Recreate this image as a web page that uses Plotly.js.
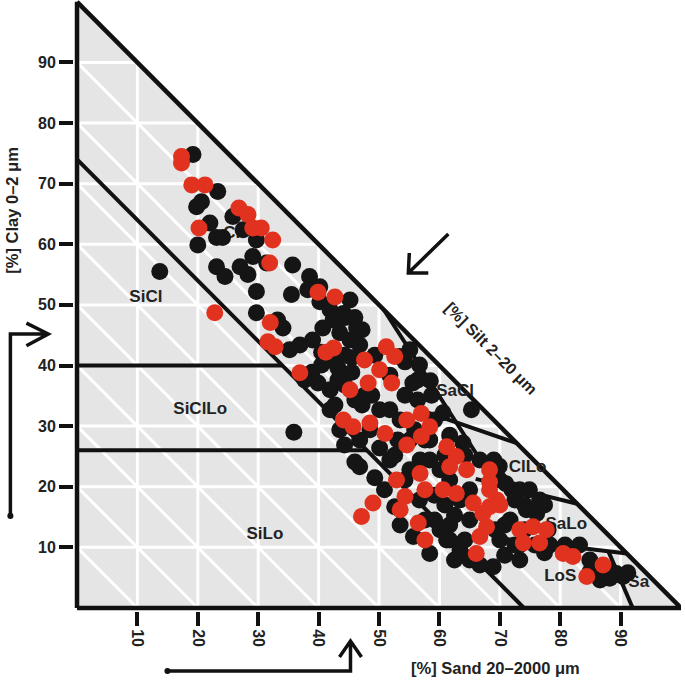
<!DOCTYPE html>
<html>
<head>
<meta charset="utf-8">
<script src="https://cdn.plot.ly/plotly-3.0.1.min.js"></script>
<style>html,body{margin:0;padding:0;background:#fff;}#chart{width:685px;height:685px;}</style>
</head>
<body>
<div id="chart"></div>
<script>
// ---- data (sand % on x, clay % on y) ----
const tickValues = [10, 20, 30, 40, 50, 60, 70, 80, 90];

// red samples
const redSand = [17.3,17.3,19.0,21.2,20.2,26.8,28.3,29.1,30.5,32.4,31.9,22.8,32.0,39.9,42.7,31.6,32.8,36.9,41.2,42.5,51.2,52.6,47.6,50.1,52.1,48.2,45.2,44.1,45.7,48.5,51.0,54.6,57.0,58.4,57.0,54.6,61.2,62.8,61.7,64.5,68.3,56.8,52.9,57.6,54.3,53.5,49.0,47.1,60.6,62.8,65.6,68.3,69.5,67.2,56.5,57.6,66.1,67.8,66.7,73.3,75.5,77.7,73.9,76.6,80.5,82.1,87.1,84.4,70.0,68.3,68.3];
const redClay = [74.5,73.4,69.8,69.8,62.7,66.0,64.9,62.7,62.7,60.7,56.9,48.7,47.1,52.1,51.3,43.9,43.1,38.8,42.2,42.9,43.1,41.5,40.9,39.3,37.1,37.1,36.0,31.0,29.9,30.5,28.8,31.0,32.1,29.9,28.3,26.9,26.6,25.0,23.3,22.8,22.8,22.2,21.1,19.5,18.4,16.2,17.3,15.1,19.5,18.9,17.3,19.5,17.8,15.6,14.0,11.2,9.0,13.4,11.8,12.9,13.4,12.9,10.7,10.7,9.0,8.5,7.1,5.2,17.0,16.7,20.8];

// black samples
const blackSand = [19.2,20.6,19.8,23.3,22.0,23.1,24.1,20.0,25.8,27.5,29.7,29.1,23.1,24.5,27.0,28.3,31.4,35.7,29.7,35.5,29.7,33.2,34.1,38.5,38.2,40.2,40.2,41.9,42.4,43.5,40.7,13.7,35.2,36.9,39.0,40.5,44.1,46.3,45.2,44.3,43.2,45.5,39.9,41.9,38.9,35.9,53.4,55.6,54.3,48.8,47.2,51.8,54.3,58.7,58.5,65.3,50.1,46.8,51.8,52.6,55.7,58.4,61.2,68.9,73.3,74.4,76.1,89.3,90.4,86.6,88.2,63.4,60.1,56.8,55.1,59.2,61.7,64.2,70.0,71.7,70.0,72.0,76.6,83.2,58.4,61.7,63.9,60.6,56.4,50.1,48.5,53.1,47.6,44.3,46.8,49.3,55.1,61.7,65.0,53.5,62.5,66.7,70.8,73.3,77.4,84.9,91.2,74.9,69.9,72.5,78.0,42.7,46.8,44.3,49.3,50.9,46.0,
  45.2,44.3,47.2,45.5,41.9,40.5,37.7,43.2,46.0,41.9,43.5,46.0,52.6,55.1,54.3,56.7,59.2,60.9,62.5,65.0,69.2,70.8,74.1,72.5,75.8,78.3,80.8,84.9,86.6,88.2,64.2,66.7,69.0,71.0,73.3,77.4,74.1,61.7,63.4,65.0,60.1,57.6,58.4,60.9,57.6,53.5,55.9,59.2,51.8,56.7,56.4];
const blackClay = [74.8,67.0,66.2,68.7,63.5,61.1,61.1,59.9,64.6,62.4,60.7,58.0,56.3,54.7,56.3,55.0,56.9,56.6,52.2,51.7,48.7,47.5,46.2,54.7,52.5,53.0,50.5,49.2,47.5,45.4,46.2,55.5,42.6,43.4,44.2,42.2,48.6,46.2,44.2,41.7,39.6,38.9,37.1,36.0,38.9,29.0,41.5,37.1,40.6,35.1,33.5,32.7,35.1,35.1,37.5,32.7,26.4,23.3,24.4,16.7,11.8,9.0,11.2,6.8,7.9,16.2,15.6,5.7,5.2,4.6,4.9,17.8,22.8,24.4,22.8,14.5,13.7,11.2,11.2,14.5,21.1,19.5,17.8,10.4,27.7,28.5,27.2,32.2,34.3,32.7,29.4,27.7,35.1,36.8,43.4,41.7,42.6,21.1,19.5,13.7,7.9,7.1,8.7,10.4,9.1,5.9,5.8,19.5,23.4,17.8,12.9,33.5,27.7,26.9,21.5,19.5,47.9,
  50.8,47.9,45.9,41.3,40.9,40.1,37.6,37.6,34.3,32.7,29.4,24.1,25.2,27.7,21.1,17.8,18.6,17.0,15.3,14.5,12.9,13.7,12.9,10.4,10.4,10.4,10.4,7.9,6.6,6.3,25.2,24.4,24.4,20.5,19.5,17.0,17.0,11.2,9.6,7.9,12.9,14.5,24.4,25.2,27.7,31.0,29.4,31.0,38.4,40.1,37.6];

// triangle edges and texture class boundaries (each entry is one polyline)
const edgeSand = [[0,0],[0,100],[0,100]];
const edgeClay = [[0,100],[0,0],[100,0]];
const boundarySand = [[0,74],[0,34],[0,48],[50.8,59.5,69.3],[57,72.8],[66,82.8],[70,91],[88,92]];
const boundaryClay = [[74,0],[40,40],[26,26],[49.2,35.7,20.5],[32.6,27.2],[21.3,17.2],[11.5,9],[9.3,0]];

// texture class labels
const classNames = ['Cl','SiCl','SiClLo','SiLo','SaCl','ClLo','SaLo','LoS','Sa'];
const classSand  = [25.6, 11.4, 20.4, 31.1, 62.6, 74.6, 81.0, 80.0, 93.0];
const classClay  = [61.8, 51.2, 32.7, 12.0, 35.6, 23.1, 13.8, 5.1, 4.1];

// ---- build ----
const FONT = 'Liberation Sans, Arial, sans-serif';
const traces = [];
for (let i = 0; i < boundarySand.length; i++) {
  traces.push({type:'scatter', mode:'lines', x:boundarySand[i], y:boundaryClay[i],
    line:{color:'#111', width:4}, hoverinfo:'skip'});
}
for (let i = 0; i < edgeSand.length; i++) {
  traces.push({type:'scatter', mode:'lines', x:edgeSand[i], y:edgeClay[i],
    line:{color:'#111', width:4.5}, hoverinfo:'skip'});
}
traces.push({type:'scatter', mode:'text', x:classSand, y:classClay, text:classNames,
  textposition:'middle center', textfont:{family:FONT, size:17, color:'#222', weight:'bold'},
  hoverinfo:'skip', cliponaxis:false});
traces.push({type:'scatter', mode:'markers', x:blackSand, y:blackClay,
  marker:{size:17, color:'#151515', line:{width:0}}, cliponaxis:false});
traces.push({type:'scatter', mode:'markers', x:redSand, y:redClay,
  marker:{size:17, color:'#e0321f', line:{width:0}}, cliponaxis:false});

const shapes = [];
shapes.push({type:'path', xref:'x', yref:'y', path:'M0,0 L100,0 L0,100 Z',
  fillcolor:'#e5e5e5', line:{width:0}, layer:'below'});
tickValues.forEach(v => {
  const w = {color:'#ffffff', width:3};
  shapes.push({type:'line', xref:'x', yref:'y', x0:v, y0:0, x1:v, y1:100 - v, line:w, layer:'below'});
  shapes.push({type:'line', xref:'x', yref:'y', x0:0, y0:v, x1:100 - v, y1:v, line:w, layer:'below'});
  shapes.push({type:'line', xref:'x', yref:'y', x0:0, y0:v, x1:v, y1:0, line:w, layer:'below'});
});
// arrows (paper coordinates of the plotting area)
const arrowLine = {color:'#111', width:3.5};
shapes.push({type:'path', xref:'paper', yref:'paper', line:arrowLine,
  path:'M -0.1048,0.1556 L -0.1048,0.4533 L -0.0424,0.4533 M -0.0784,0.4712 L -0.0424,0.4533 L -0.0784,0.4341'});
shapes.push({type:'circle', xref:'paper', yref:'paper', x0:-0.1098, x1:-0.0998, y0:0.1506, y1:0.1606,
  fillcolor:'#111', line:{width:0}});
shapes.push({type:'path', xref:'paper', yref:'paper', line:arrowLine,
  path:'M 0.1540,-0.0982 L 0.4555,-0.0982 L 0.4555,-0.0491 M 0.4374,-0.0753 L 0.4555,-0.0491 L 0.4736,-0.0753'});
shapes.push({type:'circle', xref:'paper', yref:'paper', x0:0.149, x1:0.159, y0:-0.1032, y1:-0.0932,
  fillcolor:'#111', line:{width:0}});
shapes.push({type:'path', xref:'paper', yref:'paper', line:arrowLine,
  path:'M 0.6167,0.6170 L 0.5508,0.5532 M 0.5524,0.5859 L 0.5508,0.5532 L 0.5837,0.5532'});

const titleFont = {family:FONT, size:16.5, color:'#222', weight:'bold'};
const annotations = [
  {xref:'paper', yref:'paper', x:-0.1026, y:0.6563, text:'[%] Clay 0–2 μm', textangle:-90,
   showarrow:false, xanchor:'center', yanchor:'middle', font:titleFont},
  {xref:'paper', yref:'paper', x:0.6952, y:-0.094, text:'[%] Sand 20–2000 μm',
   showarrow:false, xanchor:'center', yanchor:'middle', font:titleFont},
  {xref:'paper', yref:'paper', x:0.6871, y:0.4304, text:'[%] Silt 2–20 μm', textangle:45,
   showarrow:false, xanchor:'center', yanchor:'middle', font:Object.assign({}, titleFont, {size:16})}
];

const axisCommon = {
  showgrid:false, zeroline:false, showline:false,
  ticks:'outside', ticklen:14, tickwidth:4, tickcolor:'#111', tickvals:tickValues,
  tickfont:{family:FONT, size:16, color:'#222', weight:'bold'}, fixedrange:true
};
const layout = {
  width:685, height:685, margin:{l:74, r:4, t:0, b:74},
  paper_bgcolor:'#ffffff', plot_bgcolor:'#ffffff', showlegend:false,
  xaxis:Object.assign({}, axisCommon, {range:[-0.5,100], tickangle:90}),
  yaxis:Object.assign({}, axisCommon, {range:[-0.5,100.3], ticklabelstandoff:0}),
  shapes:shapes, annotations:annotations
};
Plotly.newPlot('chart', traces, layout, {displayModeBar:false, staticPlot:true});
</script>
</body>
</html>
